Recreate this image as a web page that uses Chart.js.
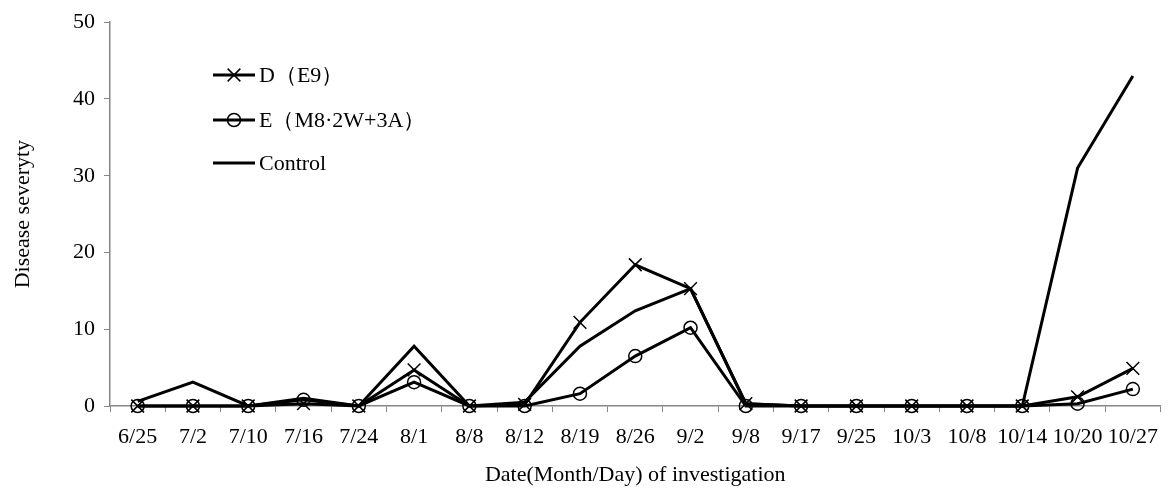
<!DOCTYPE html>
<html>
<head>
<meta charset="utf-8">
<script src="https://cdn.jsdelivr.net/npm/chart.js@4/dist/chart.umd.min.js"></script>
<style>
  html, body { margin: 0; padding: 0; background: #fff; }
  #wrap { width: 1171px; height: 488px; }
</style>
</head>
<body>
<div id="wrap"><canvas id="chart" width="1171" height="488"></canvas></div>
<script>
// Data
const dates = ['6/25', '7/2', '7/10', '7/16', '7/24', '8/1', '8/8', '8/12', '8/19', '8/26', '9/2',
               '9/8', '9/17', '9/25', '10/3', '10/8', '10/14', '10/20', '10/27'];
const seriesD = [0, 0, 0, 0.3, 0, 4.7, 0, 0.2, 10.9, 18.4, 15.3, 0.3, 0, 0, 0, 0, 0, 1.2, 4.9];
const seriesE = [0, 0, 0, 0.8, 0, 3.1, 0, 0, 1.6, 6.5, 10.2, 0, 0, 0, 0, 0, 0, 0.3, 2.2];
const seriesControl = [0.6, 3.1, 0, 1.0, 0, 7.8, 0, 0.5, 7.8, 12.4, 15.3, 0.3, 0, 0, 0, 0, 0, 31, 43];
const yTicks = [0, 10, 20, 30, 40, 50];

const serif = "'Liberation Serif', 'Times New Roman', serif";
const axisGray = '#868686';
const fontSize = 22;

// Legend drawn inside the plot, like the original figure
const insideLegend = {
    id: 'insideLegend',
    afterDraw(chart) {
        const ctx = chart.ctx;
        const x0 = 213, x1 = 255, ys = [75, 120, 163];
        chart.data.datasets.forEach((ds, i) => {
            const y = ys[i];
            ctx.save();
            ctx.strokeStyle = '#000';
            ctx.lineWidth = 3;
            ctx.beginPath();
            ctx.moveTo(x0, y);
            ctx.lineTo(x1, y);
            ctx.stroke();
            if (ds.pointStyle && ds.pointRadius > 0) {
                ctx.fillStyle = 'rgba(0,0,0,0)';
                ctx.lineWidth = 1.5;
                Chart.helpers.drawPoint(ctx, {
                    pointStyle: ds.pointStyle,
                    radius: ds.pointRadius,
                    borderWidth: 1.5
                }, (x0 + x1) / 2, y);
            }
            ctx.fillStyle = '#000';
            ctx.font = fontSize + 'px ' + serif;
            ctx.textBaseline = 'middle';
            ctx.fillText(ds.label, 259, y + 1);
            ctx.restore();
        });
    }
};

new Chart(document.getElementById('chart'), {
    type: 'line',
    data: {
        labels: dates,
        datasets: [
            {
                label: 'D（E9）',
                data: seriesD,
                borderColor: '#000',
                borderWidth: 3,
                pointStyle: 'crossRot',
                pointRadius: 9,
                pointBorderWidth: 1.5,
                pointBorderColor: '#000',
                pointBackgroundColor: 'transparent',
                tension: 0,
                clip: false
            },
            {
                label: 'E（M8·2W+3A）',
                data: seriesE,
                borderColor: '#000',
                borderWidth: 3,
                pointStyle: 'circle',
                pointRadius: 6.5,
                pointBorderWidth: 1.5,
                pointBorderColor: '#000',
                pointBackgroundColor: 'transparent',
                tension: 0,
                clip: false
            },
            {
                label: 'Control',
                data: seriesControl,
                borderColor: '#000',
                borderWidth: 3,
                pointRadius: 0,
                tension: 0,
                clip: false
            }
        ]
    },
    options: {
        responsive: false,
        animation: false,
        layout: { padding: { left: 0, right: 3, top: 20, bottom: 0 } },
        plugins: {
            legend: { display: false },
            tooltip: { enabled: false }
        },
        scales: {
            x: {
                offset: true,
                grid: {
                    offset: true,
                    drawOnChartArea: false,
                    drawTicks: true,
                    tickLength: 6,
                    color: axisGray
                },
                border: { color: axisGray, width: 1.5 },
                ticks: {
                    color: '#000',
                    font: { family: serif, size: fontSize },
                    padding: 12,
                    maxRotation: 0,
                    autoSkip: false
                },
                title: {
                    display: true,
                    text: 'Date(Month/Day) of investigation',
                    color: '#000',
                    font: { family: serif, size: fontSize },
                    padding: { top: 0, bottom: 0 }
                },
                afterFit(scale) { scale.height = 82; }
            },
            y: {
                min: 0,
                max: 50,
                afterBuildTicks(scale) { scale.ticks = yTicks.map(v => ({ value: v })); },
                grid: {
                    drawOnChartArea: false,
                    drawTicks: true,
                    tickLength: 6,
                    color: axisGray
                },
                border: { color: axisGray, width: 1.5 },
                ticks: {
                    color: '#000',
                    font: { family: serif, size: fontSize },
                    padding: 9
                },
                title: {
                    display: true,
                    text: 'Disease severyty',
                    color: '#000',
                    font: { family: serif, size: fontSize },
                    padding: { top: 10, bottom: 0 }
                },
                afterFit(scale) { scale.width = 110; }
            }
        }
    },
    plugins: [insideLegend]
});
</script>
</body>
</html>
